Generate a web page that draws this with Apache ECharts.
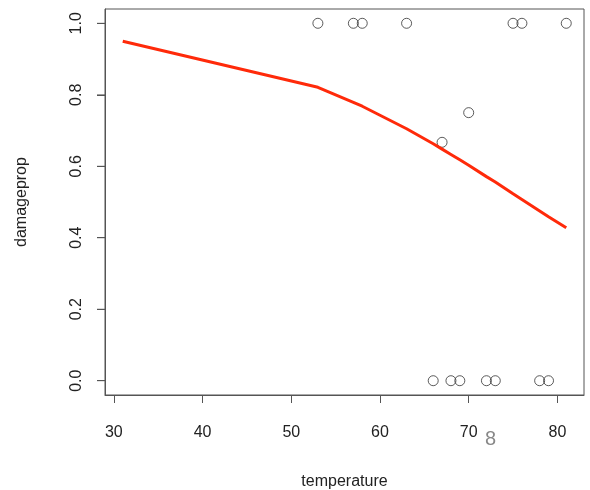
<!DOCTYPE html>
<html>
<head>
<meta charset="utf-8">
<script src="https://cdn.jsdelivr.net/npm/echarts@6/dist/echarts.min.js"></script>
<style>
  html, body { margin: 0; padding: 0; background: #fff; }
  #chart { width: 590px; height: 490px; }
</style>
</head>
<body>
<div id="chart"></div>
<script>
  // observed points (temperature, damage proportion)
  var temperature = [53, 57, 58, 63, 66, 67, 68, 69, 70, 72, 73, 75, 76, 78, 79, 81];
  var damageprop = [1, 1, 1, 1, 0, 0.667, 0, 0, 0.75, 0, 0, 1, 1, 0, 0, 1];

  // fitted curve
  var fitTemp = [31, 53, 57, 58, 63, 66, 67, 68, 69, 70, 72, 73, 75, 76, 78, 79, 81];
  var fitProb = [0.950, 0.821, 0.779, 0.768, 0.705, 0.663, 0.648, 0.633, 0.618, 0.603,
                 0.571, 0.556, 0.523, 0.507, 0.475, 0.459, 0.428];

  var xTicks = [30, 40, 50, 60, 70, 80];
  var yTicks = [0, 0.2, 0.4, 0.6, 0.8, 1.0];

  var myChart = echarts.init(document.getElementById('chart'));

  var pts = temperature.map(function (t, i) { return [t, damageprop[i]]; });
  var fit = fitTemp.map(function (t, i) { return [t, fitProb[i]]; });
  // y tick marks, hung off the left edge of the box (x = axis min)
  var yTickMarks = yTicks.map(function (v) { return [29, v]; });

  var txt = { fontFamily: 'Liberation Sans', fontSize: 16, color: '#222' };

  // plot box spans -0.04..1.04 (R's 4% padding); the tick grid covers 0..1 only
  var gridTop = 9, gridBottom = 95, plotH = 490 - gridTop - gridBottom;
  var pad = plotH * 0.04 / 1.08;

  myChart.setOption({
    animation: false,
    grid: [{
      left: 105, right: 6, top: gridTop, bottom: gridBottom,
      outerBoundsMode: 'none',
      show: true, borderColor: '#555', borderWidth: 1, backgroundColor: '#fff'
    }, {
      left: 105, right: 6, top: gridTop + pad, bottom: gridBottom + pad,
      outerBoundsMode: 'none'
    }],
    xAxis: [{
      type: 'value',
      gridIndex: 0,
      min: 29, max: 83,
      name: 'temperature',
      nameLocation: 'middle',
      nameGap: 79,
      nameTextStyle: txt,
      splitLine: { show: false },
      axisLine: { show: true, onZero: false, lineStyle: { color: '#555' } },
      axisTick: { show: true, length: 8, customValues: xTicks, lineStyle: { color: '#555' } },
      axisLabel: Object.assign({ customValues: xTicks, margin: 30 }, txt)
    }, {
      type: 'value',
      gridIndex: 1,
      min: 29, max: 83,
      show: false
    }],
    yAxis: [{
      type: 'value',
      gridIndex: 0,
      min: -0.04, max: 1.04,
      splitLine: { show: false },
      axisLine: { show: true, onZero: false, lineStyle: { color: '#555' } },
      axisTick: { show: false },
      axisLabel: { show: false }
    }, {
      type: 'value',
      gridIndex: 1,
      min: 0, max: 1, interval: 0.2,
      name: 'damageprop',
      nameLocation: 'middle',
      nameGap: 75,
      nameTextStyle: txt,
      splitLine: { show: false },
      axisLine: { show: false, onZero: false },
      axisTick: { show: true, length: 8, lineStyle: { color: '#555' } },
      axisLabel: Object.assign({
        rotate: 90, margin: 20,
        formatter: function (v) { return v.toFixed(1); }
      }, txt)
    }],
    series: [
      {
        name: 'damageprop',
        type: 'scatter',
        xAxisIndex: 0, yAxisIndex: 0,
        data: pts,
        symbol: 'circle',
        symbolSize: 10,
        itemStyle: { color: 'rgba(255,255,255,0)', borderColor: '#333', borderWidth: 1 }
      },
      {
        name: 'fit',
        type: 'line',
        xAxisIndex: 0, yAxisIndex: 0,
        data: fit,
        symbol: 'none',
        smooth: false,
        lineStyle: { color: '#ff2a0a', width: 3 }
      },
      {
        name: 'yticks',
        type: 'scatter',
        xAxisIndex: 0, yAxisIndex: 0,
        data: yTickMarks,
        symbol: 'rect',
        symbolSize: [8, 1],
        symbolOffset: [-4, 0],
        clip: false,
        silent: true,
        itemStyle: { color: '#555' }
      }
    ],
    graphic: [{
      type: 'text',
      left: 485, top: 429,
      style: { text: '8', fontFamily: 'Liberation Sans', fontSize: 20, fill: '#888' }
    }]
  });
</script>
</body>
</html>
